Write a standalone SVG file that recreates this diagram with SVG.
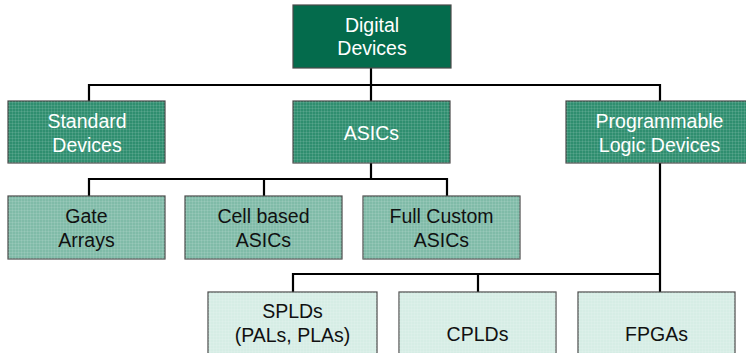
<svg xmlns="http://www.w3.org/2000/svg" width="746" height="353" viewBox="0 0 746 353">
  <defs>
    <!-- fine woven texture used on the tinted boxes -->
    <pattern id="weave" width="3" height="3" patternUnits="userSpaceOnUse">
      <path d="M0 0.5H3M0.5 0V3" stroke="#ffffff" stroke-opacity="0.10" stroke-width="1" fill="none"/>
    </pattern>
  </defs>
  <style>
    .box { stroke: #4a4a4a; stroke-width: 1.2; }
    .root { fill: #046b4c; }
    .mid { fill: #2f8e6f; }
    .low { fill: #80bba8; }
    .leaf { fill: #d6ede5; }
    .tex { fill: url(#weave); stroke: none; }
    .lbl { font-family: "Liberation Sans", Arial, sans-serif; font-size: 19.5px; text-anchor: middle; }
    .light { fill: #ffffff; }
    .dark { fill: #111111; }
    .wire { stroke: #000000; stroke-width: 2.2; fill: none; stroke-linecap: square; }
  </style>

  <!-- connectors -->
  <g id="connectors">
    <path class="wire" d="M371 68V85M89 101V85H660V101M371 85V101"/>
    <path class="wire" d="M371 163V179M89 196V179H447V196M264 179V196"/>
    <path class="wire" d="M660 163V292M293 292V274H660M478 274V292"/>
  </g>

  <g id="digital-devices">
    <rect class="box root" x="293" y="5" width="158" height="63"/>
    <text class="lbl light" x="372" y="31.5">Digital</text>
    <text class="lbl light" x="372" y="55">Devices</text>
  </g>

  <g id="standard-devices">
    <rect class="box mid" x="8" y="101" width="157" height="62"/>
    <rect class="tex" x="8" y="101" width="157" height="62"/>
    <text class="lbl light" x="87" y="127.5">Standard</text>
    <text class="lbl light" x="87" y="151.5">Devices</text>
  </g>

  <g id="asics">
    <rect class="box mid" x="293" y="101" width="157" height="62"/>
    <rect class="tex" x="293" y="101" width="157" height="62"/>
    <text class="lbl light" x="371.5" y="139.5">ASICs</text>
  </g>

  <g id="programmable-logic-devices">
    <rect class="box mid" x="566" y="101" width="187" height="62"/>
    <rect class="tex" x="566" y="101" width="187" height="62"/>
    <text class="lbl light" x="659.5" y="127.5">Programmable</text>
    <text class="lbl light" x="659.5" y="151.5">Logic Devices</text>
  </g>

  <g id="gate-arrays">
    <rect class="box low" x="8" y="196" width="157" height="63"/>
    <rect class="tex" x="8" y="196" width="157" height="63"/>
    <text class="lbl dark" x="86.5" y="223">Gate</text>
    <text class="lbl dark" x="86.5" y="246.5">Arrays</text>
  </g>

  <g id="cell-based-asics">
    <rect class="box low" x="185" y="196" width="157" height="63"/>
    <rect class="tex" x="185" y="196" width="157" height="63"/>
    <text class="lbl dark" x="263.5" y="223">Cell based</text>
    <text class="lbl dark" x="263.5" y="246.5">ASICs</text>
  </g>

  <g id="full-custom-asics">
    <rect class="box low" x="363" y="196" width="157" height="63"/>
    <rect class="tex" x="363" y="196" width="157" height="63"/>
    <text class="lbl dark" x="441.5" y="223">Full Custom</text>
    <text class="lbl dark" x="441.5" y="246.5">ASICs</text>
  </g>

  <g id="splds">
    <rect class="box leaf" x="208" y="292" width="169" height="80"/>
    <rect class="tex" x="208" y="292" width="169" height="80"/>
    <text class="lbl dark" x="292.5" y="318">SPLDs</text>
    <text class="lbl dark" x="292.5" y="341.5">(PALs, PLAs)</text>
  </g>

  <g id="cplds">
    <rect class="box leaf" x="399" y="292" width="157" height="80"/>
    <rect class="tex" x="399" y="292" width="157" height="80"/>
    <text class="lbl dark" x="477.5" y="341">CPLDs</text>
  </g>

  <g id="fpgas">
    <rect class="box leaf" x="578" y="292" width="157" height="80"/>
    <rect class="tex" x="578" y="292" width="157" height="80"/>
    <text class="lbl dark" x="656.5" y="341">FPGAs</text>
  </g>
</svg>
